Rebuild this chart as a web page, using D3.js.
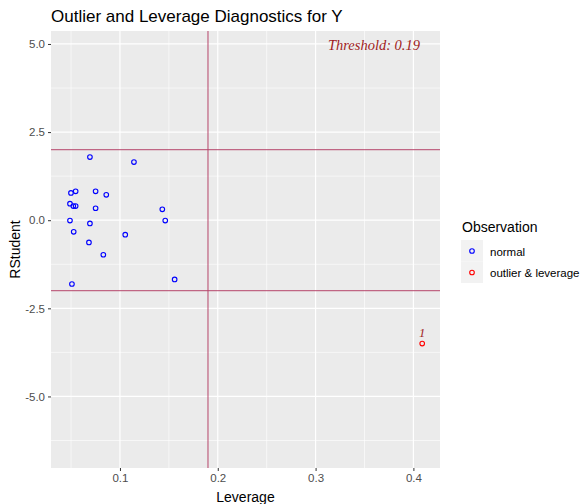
<!DOCTYPE html>
<html>
<head>
<meta charset="utf-8">
<script src="https://cdn.jsdelivr.net/npm/d3@7/dist/d3.min.js"></script>
<style>
  body { margin: 0; background: #fff; }
  text { font-family: "Liberation Sans", Arial, sans-serif; }
</style>
</head>
<body>
<svg id="svg" width="581" height="504"></svg>
<script>
// leverage / rstudent values
const leverage = [0.0693, 0.1143, 0.0499, 0.0547, 0.0751, 0.0860, 0.0489, 0.0523, 0.0547, 0.0751,
                  0.1433, 0.0489, 0.1463, 0.0693, 0.0527, 0.1054, 0.0683, 0.0830, 0.1559, 0.0509, 0.409];
const rstudent = [1.79, 1.65, 0.775, 0.82, 0.82, 0.72, 0.47, 0.40, 0.40, 0.34,
                  0.31, -0.01, -0.01, -0.09, -0.33, -0.41, -0.63, -0.98, -1.68, -1.81, -3.50];
const status = ["normal","normal","normal","normal","normal","normal","normal","normal","normal","normal",
                "normal","normal","normal","normal","normal","normal","normal","normal","normal","normal","outlier & leverage"];
const obsLabel = ["","","","","","","","","","","","","","","","","","","","","1"];
const threshold = 0.19;
const xTicks = [0.1, 0.2, 0.3, 0.4];
const yTicks = [-5, -2.5, 0, 2.5, 5];
const categories = ["normal", "outlier & leverage"];
const catColors = ["blue", "red"];

const panel = { left: 51, right: 440, top: 31, bottom: 468 };

const x = d3.scaleLinear().domain([0.0295, 0.4272]).range([panel.left, panel.right]);
const y = d3.scaleLinear().domain([-7.03, 5.368]).range([panel.bottom, panel.top]);
const color = d3.scaleOrdinal().domain(categories).range(catColors);

const svg = d3.select('#svg');

// panel background
svg.append('rect')
  .attr('x', panel.left).attr('y', panel.top)
  .attr('width', panel.right - panel.left).attr('height', panel.bottom - panel.top)
  .attr('fill', '#ebebeb');

// grid lines
const xMinor = [0.05, 0.15, 0.25, 0.35];
const yMinor = [-6.25, -3.75, -1.25, 1.25, 3.75];
svg.append('g').selectAll('line').data(xMinor).join('line')
  .attr('x1', d => x(d)).attr('x2', d => x(d))
  .attr('y1', panel.top).attr('y2', panel.bottom)
  .attr('stroke', '#fff').attr('stroke-width', 0.6);
svg.append('g').selectAll('line').data(yMinor).join('line')
  .attr('y1', d => y(d)).attr('y2', d => y(d))
  .attr('x1', panel.left).attr('x2', panel.right)
  .attr('stroke', '#fff').attr('stroke-width', 0.6);
svg.append('g').selectAll('line').data(xTicks).join('line')
  .attr('x1', d => x(d)).attr('x2', d => x(d))
  .attr('y1', panel.top).attr('y2', panel.bottom)
  .attr('stroke', '#fff').attr('stroke-width', 1.2);
svg.append('g').selectAll('line').data(yTicks).join('line')
  .attr('y1', d => y(d)).attr('y2', d => y(d))
  .attr('x1', panel.left).attr('x2', panel.right)
  .attr('stroke', '#fff').attr('stroke-width', 1.2);

// axes
const fmt = d => d3.format('.1f')(d).replace('\u2212', '-');
const xAxis = d3.axisBottom(x).tickValues(xTicks).tickFormat(fmt).tickSize(3).tickPadding(3);
const yAxis = d3.axisLeft(y).tickValues(yTicks).tickFormat(fmt).tickSize(3).tickPadding(3);

const gx = svg.append('g').attr('transform', `translate(0,${panel.bottom})`).call(xAxis);
const gy = svg.append('g').attr('transform', `translate(${panel.left},0)`).call(yAxis);
[gx, gy].forEach(g => {
  g.select('.domain').remove();
  g.selectAll('.tick line').attr('stroke', '#333');
  g.selectAll('.tick text').attr('fill', '#4d4d4d').style('font-size', '11.5px')
    .style('font-family', '"Liberation Sans", Arial, sans-serif');
});

// reference lines
const refColor = '#b5456a';
svg.append('g').selectAll('line').data([-2, 2]).join('line')
  .attr('y1', d => y(d)).attr('y2', d => y(d))
  .attr('x1', panel.left).attr('x2', panel.right)
  .attr('stroke', refColor).attr('stroke-width', 1);
svg.append('line')
  .attr('x1', x(threshold)).attr('x2', x(threshold))
  .attr('y1', panel.top).attr('y2', panel.bottom)
  .attr('stroke', refColor).attr('stroke-width', 1);

// points
svg.append('g').selectAll('circle').data(leverage).join('circle')
  .attr('cx', (d, i) => x(d))
  .attr('cy', (d, i) => y(rstudent[i]))
  .attr('r', 2.3)
  .attr('fill', 'none')
  .attr('stroke', (d, i) => color(status[i]))
  .attr('stroke-width', 1.1);

// point labels
svg.append('g').selectAll('text').data(leverage).join('text')
  .attr('x', (d, i) => x(d))
  .attr('y', (d, i) => y(rstudent[i]) - 7)
  .attr('text-anchor', 'middle')
  .style('font-family', '"Liberation Serif", "Times New Roman", serif')
  .style('font-style', 'italic')
  .style('font-size', '12.5px')
  .attr('fill', '#a01c1c')
  .text((d, i) => obsLabel[i]);

// threshold annotation
svg.append('text')
  .attr('x', 420).attr('y', 50)
  .attr('text-anchor', 'end')
  .style('font-family', '"Liberation Serif", "Times New Roman", serif')
  .style('font-style', 'italic')
  .style('font-size', '14.5px')
  .attr('fill', '#a01c1c')
  .text('Threshold: ' + threshold);

// titles
svg.append('text').attr('x', panel.left).attr('y', 22)
  .style('font-size', '17px').attr('fill', '#000')
  .text('Outlier and Leverage Diagnostics for Y');
svg.append('text').attr('x', (panel.left + panel.right) / 2).attr('y', 502)
  .attr('text-anchor', 'middle').style('font-size', '14px').attr('fill', '#000')
  .text('Leverage');
svg.append('text')
  .attr('transform', `translate(20,${(panel.top + panel.bottom) / 2}) rotate(-90)`)
  .attr('text-anchor', 'middle').style('font-size', '14px').attr('fill', '#000')
  .text('RStudent');

// legend
const lg = svg.append('g').attr('transform', 'translate(461,0)');
lg.append('text').attr('x', 1).attr('y', 232).style('font-size', '14px').attr('fill', '#000')
  .text('Observation');
const key = lg.selectAll('g.key').data(categories).join('g')
  .attr('class', 'key')
  .attr('transform', (d, i) => `translate(0,${240 + i * 21.5})`);
key.append('rect').attr('width', 22).attr('height', 21.5).attr('fill', '#f2f2f2');
key.append('circle').attr('cx', 11).attr('cy', 11).attr('r', 2.3)
  .attr('fill', 'none').attr('stroke', d => color(d)).attr('stroke-width', 1.1);
key.append('text').attr('x', 29).attr('y', 15.5).style('font-size', '11.5px').attr('fill', '#000')
  .text(d => d);
</script>
</body>
</html>
